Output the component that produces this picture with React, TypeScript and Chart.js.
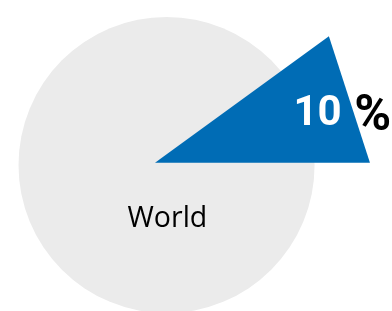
import { useEffect, useRef } from 'react';
import Chart from 'chart.js/auto';

// ---- data ----
const categories = ['World'];
const totalValues = [100]; // percent (whole circle)
const shareValues = [10]; // highlighted share, percent
const shareLabels = ['10', '%'];

// ---- geometry / style constants (not data) ----
const GRAY = '#EBEBEB';
const BLUE = '#006CB5';
const SLICE_LENGTH = 1.452; // triangle leg length, in circle radii
const CIRCLE_CENTER = { x: 0.078, y: -0.016 }; // circle center relative to slice apex
const X_RANGE = { min: -1.047, max: 1.601 };
const Y_RANGE = { min: -1.002, max: 1.099 };

export default function App() {
  const ref = useRef<HTMLCanvasElement | null>(null);

  useEffect(() => {
    if (!ref.current) return;
    const share = shareValues[0] / totalValues[0];
    const angle = share * 2 * Math.PI;
    const triangle = [
      { x: 0, y: 0 },
      { x: SLICE_LENGTH * Math.cos(angle), y: SLICE_LENGTH * Math.sin(angle) },
      { x: SLICE_LENGTH, y: 0 },
    ];

    const unitPx = (chart: any) => {
      const xs = chart.scales.x;
      return xs.getPixelForValue(1) - xs.getPixelForValue(0);
    };

    const labelPlugin = {
      id: 'sliceLabels',
      afterDatasetsDraw(chart: any) {
        const { ctx } = chart;
        const xs = chart.scales.x;
        const ys = chart.scales.y;
        ctx.save();
        // World label
        ctx.font = '28.5px "Open Sans"';
        ctx.fillStyle = '#000';
        ctx.textAlign = 'center';
        ctx.textBaseline = 'alphabetic';
        ctx.fillText(
          categories[0],
          xs.getPixelForValue(CIRCLE_CENTER.x + 0.006),
          ys.getPixelForValue(CIRCLE_CENTER.y - 0.42)
        );
        // share label: number inside slice, percent sign just outside
        const mid = angle / 2;
        const r = SLICE_LENGTH * 0.885;
        const ax = r * Math.cos(mid);
        const ay = r * Math.sin(mid);
        ctx.font = 'bold 42px Roboto';
        ctx.textAlign = 'center';
        ctx.fillStyle = '#FFFFFF';
        ctx.fillText(shareLabels[0], xs.getPixelForValue(ax - 0.124), ys.getPixelForValue(ay - 0.14));
        ctx.font = 'bold 50px Roboto';
        ctx.fillStyle = '#000000';
        ctx.textAlign = 'left';
        ctx.fillText(shareLabels[1], xs.getPixelForValue(ax + 0.124), ys.getPixelForValue(ay - 0.176));
        ctx.restore();
      },
    };

    const chart = new Chart(ref.current, {
      type: 'scatter',
      data: {
        datasets: [
          {
            type: 'line',
            label: 'share',
            data: triangle,
            order: 0,
            borderWidth: 0,
            borderColor: BLUE,
            backgroundColor: BLUE,
            pointRadius: 0,
            tension: 0,
            fill: 'origin',
            clip: false,
          } as any,
          {
            type: 'scatter',
            label: categories[0],
            data: [{ x: CIRCLE_CENTER.x, y: CIRCLE_CENTER.y }],
            order: 1,
            showLine: false,
            pointBackgroundColor: GRAY,
            pointBorderWidth: 0,
            pointBorderColor: GRAY,
            pointRadius: (c: any) => unitPx(c.chart),
            clip: false,
          } as any,
        ],
      },
      options: {
        animation: false,
        responsive: false,
        events: [],
        layout: { padding: 0 },
        plugins: { legend: { display: false }, tooltip: { enabled: false } },
        scales: {
          x: { type: 'linear', display: false, min: X_RANGE.min, max: X_RANGE.max },
          y: { type: 'linear', display: false, min: Y_RANGE.min, max: Y_RANGE.max },
        },
      },
      plugins: [labelPlugin],
    });
    return () => chart.destroy();
  }, []);

  return (
    <div style={{ position: 'fixed', left: 0, top: 0, width: 392, height: 311, background: '#fff' }}>
      <canvas ref={ref} width={392} height={311} />
    </div>
  );
}
